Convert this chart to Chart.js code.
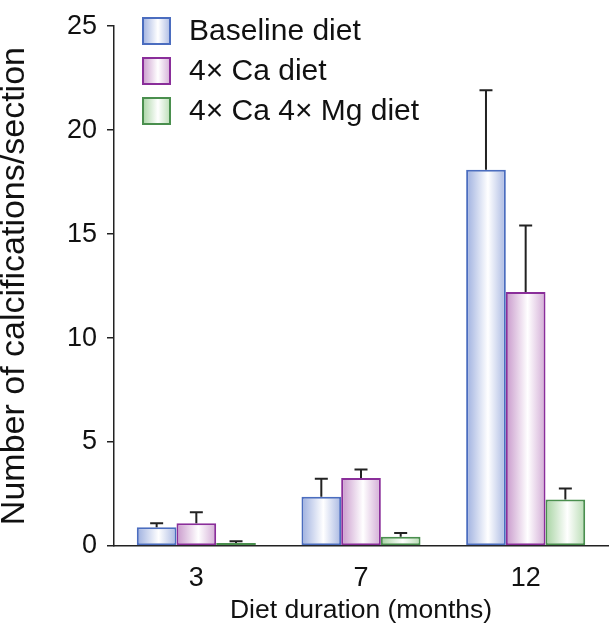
<!DOCTYPE html>
<html>
<head>
<meta charset="utf-8">
<script src="https://cdn.jsdelivr.net/npm/chart.js@4.4.1/dist/chart.umd.min.js"></script>
<style>
  body { margin: 0; background: #fff; }
</style>
</head>
<body>
<canvas id="myChart" width="611" height="639"></canvas>
<script>
// Calcifications per section, by diet and duration
const months = ['3', '7', '12'];
const seriesNames = ['Baseline diet', '4\u00d7 Ca diet', '4\u00d7 Ca 4\u00d7 Mg diet'];
const baseline = [0.9, 2.37, 18.1];
const baselineErr = [0.2, 0.87, 3.82];
const ca = [1.1, 3.27, 12.22];
const caErr = [0.52, 0.41, 3.19];
const caMg = [0.14, 0.44, 2.24];
const caMgErr = [0.09, 0.19, 0.53];
const yTicks = [0, 5, 10, 15, 20, 25];

// border, left edge, right edge
const palette = [
    ['#4b6dbf', '#9dafdf', '#a9b8e2'],
    ['#8a2e9a', '#c898cb', '#d2abd5'],
    ['#4a8f4e', '#a6d3a1', '#b8dcb3']
];

const FONT = '"Liberation Sans", Arial, Helvetica, sans-serif';

function barGradient(ctx, x0, x1, pal) {
    let g = ctx.createLinearGradient(x0, 0, x1, 0);
    g.addColorStop(0, pal[1]);
    g.addColorStop(0.55, '#ffffff');
    g.addColorStop(1, pal[2]);
    return g;
}

// gradient fill per bar
const gradientFill = {
    id: 'gradientFill',
    beforeDatasetsDraw(chart) {
        chart.data.datasets.forEach((ds, i) => {
            chart.getDatasetMeta(i).data.forEach(bar => {
                let half = bar.width / 2;
                bar.options.backgroundColor = barGradient(chart.ctx, bar.x - half, bar.x + half, palette[i]);
            });
        });
    }
};

// error bars (upper only)
const errorBars = {
    id: 'errorBars',
    afterDatasetsDraw(chart) {
        let ctx = chart.ctx;
        let y = chart.scales.y;
        ctx.save();
        ctx.strokeStyle = '#222';
        ctx.lineWidth = 2;
        chart.data.datasets.forEach((ds, i) => {
            chart.getDatasetMeta(i).data.forEach((bar, j) => {
                let top = y.getPixelForValue(ds.data[j] + ds.errors[j]);
                ctx.beginPath();
                ctx.moveTo(bar.x, bar.y);
                ctx.lineTo(bar.x, top);
                ctx.moveTo(bar.x - 6.5, top);
                ctx.lineTo(bar.x + 6.5, top);
                ctx.stroke();
            });
        });
        ctx.restore();
    }
};

// legend inside the plot, top left
const insideLegend = {
    id: 'insideLegend',
    afterDraw(chart) {
        let ctx = chart.ctx;
        ctx.save();
        chart.data.datasets.forEach((ds, i) => {
            let cy = 31 + i * 40;
            ctx.fillStyle = barGradient(ctx, 142, 171, palette[i]);
            ctx.fillRect(142, cy - 14, 29, 28);
            ctx.strokeStyle = palette[i][0];
            ctx.lineWidth = 2;
            ctx.strokeRect(143, cy - 13, 27, 26);
            ctx.fillStyle = '#111';
            ctx.font = '30px ' + FONT;
            ctx.textBaseline = 'middle';
            ctx.textAlign = 'left';
            ctx.fillText(ds.label, 189, cy + 1);
        });
        ctx.restore();
    }
};

let ctx = document.getElementById('myChart');
let myChart = new Chart(ctx, {
    type: 'bar',
    data: {
        labels: months,
        datasets: [
            { label: seriesNames[0], data: baseline, errors: baselineErr, borderColor: palette[0][0] },
            { label: seriesNames[1], data: ca, errors: caErr, borderColor: palette[1][0] },
            { label: seriesNames[2], data: caMg, errors: caMgErr, borderColor: palette[2][0] }
        ]
    },
    options: {
        responsive: false,
        animation: false,
        layout: { padding: { top: 15, right: 3, left: 0, bottom: 0 } },
        datasets: {
            bar: {
                backgroundColor: () => '#ffffff',
                borderWidth: 2,
                borderSkipped: false,
                categoryPercentage: 0.723,
                barPercentage: 1.0
            }
        },
        plugins: {
            legend: { display: false },
            tooltip: { enabled: false }
        },
        scales: {
            x: {
                grid: { display: false, drawTicks: false },
                border: { display: true, color: '#222', width: 1.5 },
                afterFit: s => { s.height = 93; },
                ticks: { color: '#111', padding: 16, font: { family: FONT, size: 27 } },
                title: {
                    display: true,
                    text: 'Diet duration (months)',
                    color: '#111',
                    padding: { bottom: 12, top: 0 },
                    font: { family: FONT, size: 26.5 }
                }
            },
            y: {
                min: 0,
                max: 25,
                afterBuildTicks: s => { s.ticks = yTicks.map(v => ({ value: v })); },
                afterFit: s => { s.width = 114; },
                grid: { drawOnChartArea: false, drawTicks: true, tickLength: 7, color: '#222', lineWidth: 1.5 },
                border: { display: true, color: '#222', width: 1.5 },
                ticks: { color: '#111', padding: 10, font: { family: FONT, size: 27 } },
                title: {
                    display: true,
                    text: 'Number of calcifications/section',
                    color: '#111',
                    padding: { top: 0, bottom: 0 },
                    font: { family: FONT, size: 34, lineHeight: 0.88 }
                }
            }
        }
    },
    plugins: [gradientFill, errorBars, insideLegend]
});
</script>
</body>
</html>
